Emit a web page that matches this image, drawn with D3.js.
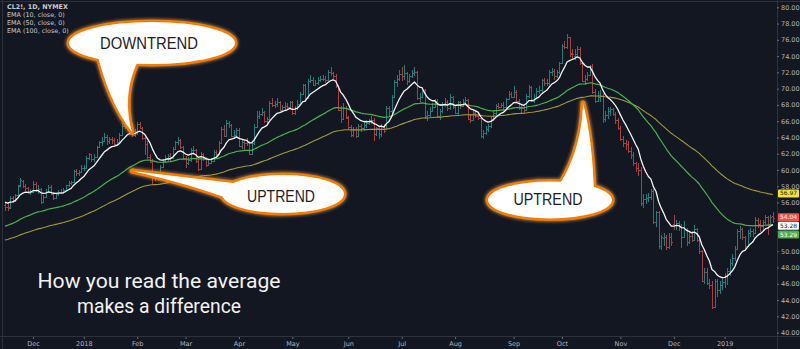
<!DOCTYPE html>
<html>
<head>
<meta charset="utf-8">
<script src="https://cdn.jsdelivr.net/npm/d3@7/dist/d3.min.js"></script>
<style>
  html, body { margin: 0; padding: 0; background: #131722; }
  svg { display: block; }
</style>
</head>
<body>
<svg id="chart" width="800" height="349"></svg>
<script>
// ---- CL2!, daily bars, mid-Nov 2017 .. end of Jan 2019 ----
const opens = [
  // Nov 2017
  55.7,55.4,55.4,56.6,56.2,56.9,58.1,58.7,58.0,57.8,57.2,
  // Dec 2017
  57.3,58.3,57.5,57.6,56.0,56.7,57.3,57.9,57.2,56.6,57.0,57.3,57.2,57.5,58.1,58.4,58.5,59.9,59.6,59.8,
  // Jan 2018
  60.2,60.3,61.5,61.9,61.3,61.6,62.8,63.4,63.6,64.1,63.5,63.8,63.7,63.2,63.4,64.3,65.4,65.3,65.9,65.3,64.3,
  // Feb
  64.5,65.6,65.2,63.9,63.2,61.6,61.0,59.1,59.2,59.1,60.4,61.1,61.5,61.7,61.5,62.6,63.4,63.7,62.8,
  // Mar
  61.5,60.9,61.2,62.5,62.5,61.1,60.1,62.0,61.3,60.6,60.9,61.1,62.2,62.0,63.3,65.0,64.2,65.8,65.5,64.2,64.3,
  // Apr
  64.9,63.0,63.4,63.3,63.4,62.0,63.3,65.3,66.6,66.9,67.1,66.0,66.3,68.2,68.0,68.1,68.3,67.4,67.8,67.9,67.8,
  // May
  68.3,67.0,67.6,68.1,69.4,70.4,68.8,70.9,71.1,70.5,70.7,71.0,71.2,71.2,71.0,72.0,71.9,71.6,70.3,67.4,66.3,67.6,
  // Jun
  66.4,65.3,64.3,65.0,64.2,65.4,65.1,65.5,65.8,66.0,66.2,64.4,65.1,64.4,65.4,65.0,67.6,67.2,69.0,70.8,71.2,
  // Jul
  71.8,71.6,71.9,70.9,71.6,71.9,72.1,68.8,69.0,69.8,66.6,66.7,67.3,67.8,68.5,66.6,67.2,68.0,68.4,67.6,69.0,
  // Aug
  67.8,67.0,68.3,67.9,68.4,68.6,66.3,66.2,67.0,66.6,66.4,64.2,64.6,65.0,65.4,66.3,67.0,67.9,67.8,68.0,67.7,68.7,69.4,
  // Sep
  69.0,69.6,68.5,67.6,67.6,67.4,69.1,70.2,68.5,68.9,69.7,69.8,71.0,70.7,70.7,72.0,72.2,71.5,72.0,
  // Oct
  73.2,75.2,75.1,76.3,74.4,74.0,74.2,74.9,73.1,70.9,71.2,71.7,72.8,69.6,68.5,69.0,69.1,66.3,66.7,67.2,67.5,66.9,66.1,
  // Nov
  65.2,63.8,63.3,63.2,62.3,61.8,60.8,60.3,60.0,55.9,56.4,56.6,56.7,57.4,53.6,54.8,50.6,51.6,51.8,50.5,51.7,
  // Dec
  53.4,53.2,53.5,53.1,51.7,52.8,51.2,51.9,51.4,52.8,51.4,50.0,46.4,47.4,46.1,45.9,43.1,46.4,45.2,45.9,
  // Jan 2019
  46.2,47.0,47.6,48.6,49.2,50.3,52.5,52.7,51.8,50.7,52.3,52.5,52.3,53.9,53.4,53.1,53.6,54.2,53.4,54.3
];
const highs = [
  56.0,55.9,56.8,56.8,57.1,58.2,59.0,58.8,58.3,57.9,57.7,
  58.7,58.5,58.1,57.8,56.9,57.6,58.2,58.1,57.3,57.2,57.5,57.7,57.8,58.2,58.6,58.7,60.0,60.1,60.0,60.6,
  60.6,61.7,62.1,62.0,61.9,62.9,63.6,64.0,64.5,64.3,64.0,64.1,63.9,63.8,64.6,65.8,66.2,66.1,66.0,65.4,65.0,
  65.9,65.9,65.3,64.0,63.5,61.9,61.4,59.7,59.6,60.6,61.4,61.8,62.0,62.1,62.8,63.6,64.0,63.8,62.9,
  61.7,61.6,62.7,62.9,62.6,61.3,62.2,62.1,61.6,61.2,61.5,62.4,62.5,63.5,65.3,65.5,66.2,66.0,65.6,64.9,65.2,
  65.1,63.8,63.8,63.9,63.6,63.5,65.6,67.2,67.2,67.6,67.3,66.5,68.5,68.8,68.5,68.8,68.5,68.0,68.3,68.2,68.5,
  68.5,67.9,68.6,69.6,70.6,70.6,71.2,71.7,71.4,71.1,71.4,71.6,71.7,71.5,72.3,72.6,72.1,71.8,70.5,67.9,68.2,67.9,
  66.6,65.5,65.3,65.3,65.6,65.7,65.9,66.1,66.3,66.6,66.4,65.3,65.4,65.6,65.6,67.9,67.9,69.2,71.1,71.7,72.3,
  72.6,72.9,72.0,71.8,72.3,72.6,72.2,69.5,70.1,69.9,67.3,67.7,68.2,68.7,68.7,67.5,68.3,68.8,68.6,69.3,69.1,
  68.0,68.5,68.5,68.7,69.0,68.7,66.9,67.3,67.2,67.1,66.5,64.9,65.4,65.6,66.5,67.2,68.1,68.2,68.2,68.3,68.9,69.7,69.6,
  70.3,69.8,68.7,68.0,68.0,69.4,70.5,70.3,69.3,70.1,70.3,71.2,71.3,71.2,72.3,72.5,72.4,72.3,73.3,
  75.5,75.8,76.7,76.3,74.9,74.9,75.2,75.1,73.3,71.7,72.0,72.9,73.0,70.0,69.7,69.8,69.3,67.2,67.7,67.8,67.6,67.1,66.4,
  65.4,64.2,63.7,63.6,62.8,62.2,61.0,60.8,60.4,57.0,57.0,57.2,57.7,57.6,55.0,55.0,52.0,52.3,52.0,52.2,52.2,
  54.4,53.9,53.7,53.3,53.7,52.9,52.4,52.5,53.2,52.9,51.6,50.1,48.0,47.9,46.6,46.4,46.6,46.6,46.4,46.7,
  47.3,47.9,49.1,49.7,50.7,52.8,53.1,52.9,51.9,52.6,52.9,52.8,54.2,54.1,53.8,53.8,54.5,54.3,54.4,54.8
];
const lows = [
  55.0,54.9,55.2,55.9,56.0,56.8,57.9,57.8,57.4,57.0,56.9,
  57.2,57.3,57.1,55.8,55.9,56.6,57.2,56.9,56.3,56.5,56.8,57.0,57.0,57.4,57.9,58.2,58.4,59.3,59.3,59.6,
  59.9,60.1,61.2,61.0,61.0,61.5,62.7,63.0,63.4,63.1,63.2,63.2,62.9,62.9,63.3,64.2,65.0,65.0,64.9,64.0,64.0,
  64.3,65.0,63.7,61.8,61.3,60.8,58.1,58.6,58.6,59.0,60.2,60.8,61.1,61.0,61.3,62.4,63.1,62.6,61.2,
  60.3,60.6,61.0,62.1,60.9,59.9,60.0,61.1,60.4,60.5,60.7,61.0,61.6,61.9,63.2,64.0,64.1,65.1,64.0,63.9,64.1,
  62.8,62.6,62.4,63.0,61.8,61.9,63.1,65.1,66.3,66.6,65.8,65.7,66.2,67.7,67.6,67.8,67.2,67.1,67.4,67.4,67.6,
  66.7,66.8,67.4,68.0,69.3,68.3,68.7,70.7,70.3,70.3,70.5,70.8,70.9,70.7,70.9,71.6,71.2,70.1,67.2,65.8,66.2,66.3,
  65.0,64.0,64.0,63.9,64.0,64.7,64.8,65.2,65.5,65.7,63.6,64.2,63.8,64.1,64.5,64.9,66.6,66.9,68.8,70.2,70.9,
  70.9,71.0,70.5,70.7,71.3,71.6,68.6,68.3,68.8,66.3,66.0,66.5,67.1,67.6,66.4,66.2,67.0,67.8,67.3,67.4,67.5,
  66.9,66.6,67.5,67.7,68.0,66.1,65.8,66.0,66.4,66.1,63.9,63.8,64.3,64.7,65.2,66.0,66.8,67.5,67.6,67.4,67.6,68.6,68.8,
  68.8,68.2,67.4,67.0,66.9,67.2,68.9,68.3,68.2,68.7,69.3,69.6,70.3,70.3,70.5,71.6,71.1,71.3,71.8,
  73.1,74.9,74.9,73.9,73.7,73.5,73.9,72.9,70.8,70.5,70.9,71.5,69.4,68.2,68.3,68.4,65.8,65.9,66.3,66.6,66.6,65.7,64.9,
  63.6,62.8,62.5,62.1,61.3,60.5,59.8,59.3,55.6,55.3,55.8,56.0,56.3,53.3,53.0,50.3,50.2,50.7,50.2,50.3,50.7,
  52.6,52.6,52.5,50.4,51.6,50.6,50.9,51.1,51.3,51.1,49.7,46.2,46.0,45.8,45.3,42.9,43.0,44.4,44.7,45.2,
  45.5,45.8,46.9,48.2,48.8,50.1,51.5,51.4,50.3,50.5,51.8,51.7,52.2,52.9,52.4,52.6,53.3,52.0,53.2,53.5
];
const closes = [
  55.4,55.3,56.6,56.2,56.9,58.0,58.8,58.0,57.8,57.2,57.3,
  58.3,57.5,57.6,56.0,56.7,57.3,57.9,57.1,56.6,57.0,57.3,57.2,57.5,58.1,58.4,58.5,59.9,59.6,59.8,60.3,
  60.3,61.5,61.9,61.3,61.6,62.8,63.4,63.6,64.1,63.5,63.8,63.7,63.2,63.4,64.3,65.4,65.3,65.9,65.3,64.3,64.5,
  65.6,65.2,63.9,63.2,61.6,61.0,59.1,59.2,59.1,60.4,61.1,61.5,61.7,61.5,62.6,63.4,63.7,62.8,61.5,
  60.9,61.2,62.5,62.5,61.1,60.1,62.0,61.3,60.6,60.9,61.1,62.2,62.0,63.3,65.0,64.2,65.8,65.5,64.2,64.3,64.9,
  63.0,63.4,63.3,63.4,62.0,63.3,65.3,66.6,66.9,67.1,66.0,66.3,68.2,68.0,68.1,68.3,67.4,67.8,67.9,67.8,68.3,
  67.0,67.6,68.1,69.4,70.4,68.8,70.9,71.1,70.5,70.7,71.0,71.2,71.2,71.0,72.0,71.9,71.6,70.3,67.4,66.3,67.6,66.5,
  65.3,64.3,65.0,64.2,65.4,65.1,65.5,65.8,66.0,66.2,64.4,65.1,64.4,65.4,64.8,67.6,67.2,69.0,70.8,71.2,71.8,
  71.6,71.9,70.9,71.6,71.9,72.1,68.8,69.0,69.8,66.6,66.7,67.3,67.8,68.5,66.6,67.2,68.0,68.4,67.6,69.0,67.8,
  67.0,68.3,67.9,68.4,68.6,66.3,66.2,67.0,66.6,66.4,64.2,64.6,65.0,65.4,66.3,67.0,67.9,67.8,68.0,67.7,68.7,69.4,69.0,
  69.6,68.5,67.6,67.6,67.4,69.1,70.2,68.5,68.9,69.7,69.8,71.0,70.7,70.7,72.0,72.2,71.5,72.0,73.1,
  75.2,75.1,76.3,74.2,74.2,74.2,74.9,73.1,70.9,71.2,71.7,72.8,69.6,68.5,69.0,69.1,66.3,66.7,67.2,67.5,66.9,66.1,65.2,
  63.8,63.3,63.2,62.3,61.8,60.8,60.3,60.0,55.9,56.4,56.6,56.7,57.4,53.6,54.8,50.6,51.8,51.8,50.5,51.7,51.1,
  53.2,53.5,53.1,51.7,52.8,51.2,51.9,51.4,52.8,51.4,50.0,46.4,47.4,46.1,45.9,43.1,46.4,45.2,45.9,46.2,
  47.0,47.6,48.6,49.2,50.3,52.5,52.7,51.8,50.7,52.3,52.5,52.3,53.9,53.4,53.1,53.6,54.2,53.4,54.2,54.04
];

// trading bars per calendar month (first entry: tail of Nov 2017)
const barsPerMonth = [11, 20, 21, 19, 21, 21, 22, 21, 21, 23, 19, 23, 21, 20, 20];
const monthLabels = ["Dec", "2018", "Feb", "Mar", "Apr", "May", "Jun", "Jul", "Aug", "Sep", "Oct", "Nov", "Dec", "2019"];
const priceTicks = [40, 42, 44, 46, 48, 50, 52, 54, 56, 58, 60, 62, 64, 66, 68, 70, 72, 74, 76, 78, 80];

// moving averages: lengths and their values on the bar before the first one shown
const emaLengths = [10, 50, 100];
const emaSeeds = [56.2, 53.0, 51.3];
const legendLines = ["CL2!, 1D, NYMEX", "EMA (10, close, 0)", "EMA (50, close, 0)", "EMA (100, close, 0)"];
const captionLines = ["How you read the average", "makes a difference"];

// ---------------------------------------------------------------
const emaColors = ["#f4f4f4", "#4caf50", "#a39a3e"];
const emaWidths = [1.3, 1.2, 1.1];
const labelBg = ["#ffffff", "#4caf50", "#f2e234"];
const labelFg = ["#131722", "#ffffff", "#131722"];

const svg = d3.select("#chart");
const W = 800, H = 349;
const plot = { left: 3, right: 777, top: 2, bottom: 337 };

const x = d3.scaleLinear().domain([0, closes.length - 1]).range([5, 773]);
const y = d3.scaleLinear().domain([40, 80]).range([332.6, 7.3]);

function ema(values, length, seed) {
  const k = 2 / (length + 1);
  let prev = seed;
  return values.map(v => (prev = k * v + (1 - k) * prev));
}
const emas = emaLengths.map((len, i) => ema(closes, len, emaSeeds[i]));

// background + frame
svg.append("rect").attr("width", W).attr("height", H).attr("fill", "#131722");
const defs = svg.append("defs");
defs.append("clipPath").attr("id", "plotClip").append("rect")
  .attr("x", plot.left).attr("y", plot.top)
  .attr("width", plot.right - plot.left).attr("height", plot.bottom - plot.top);
const glow = defs.append("filter").attr("id", "glow")
  .attr("x", "-20%").attr("y", "-20%").attr("width", "140%").attr("height", "140%");
glow.append("feGaussianBlur").attr("stdDeviation", 1.6);

const frame = svg.append("g").attr("stroke", "#2e323d").attr("stroke-width", 1).attr("shape-rendering", "crispEdges");
frame.append("line").attr("x1", 0).attr("x2", W).attr("y1", 1.5).attr("y2", 1.5);
frame.append("line").attr("x1", 2.5).attr("x2", 2.5).attr("y1", 0).attr("y2", H);
frame.append("line").attr("x1", plot.right + 0.5).attr("x2", plot.right + 0.5).attr("y1", 0).attr("y2", H);
frame.append("line").attr("x1", 0).attr("x2", W).attr("y1", plot.bottom - 0.5).attr("y2", plot.bottom - 0.5);

// OHLC bars
const chart = svg.append("g").attr("clip-path", "url(#plotClip)");
const barG = chart.append("g").attr("shape-rendering", "crispEdges").attr("stroke-width", 1).attr("fill", "none");
const barIdx = d3.range(closes.length);
barG.selectAll("path").data(barIdx).join("path")
  .attr("stroke", i => closes[i] >= opens[i] ? "#1f7e78" : "#a83f43")
  .attr("d", i => {
    const xi = Math.round(x(i)) + 0.5;
    const yh = y(highs[i]), yl = y(lows[i]);
    const yo = Math.round(y(opens[i])) + 0.5, yc = Math.round(y(closes[i])) + 0.5;
    return `M${xi},${yh}V${yl}M${xi - 1.5},${yo}H${xi}M${xi},${yc}H${xi + 1.5}`;
  });

// EMA lines (slowest first so the 10-day line sits on top)
[2, 1, 0].forEach(k => {
  chart.append("path")
    .datum(emas[k])
    .attr("fill", "none")
    .attr("stroke", emaColors[k])
    .attr("stroke-width", emaWidths[k])
    .attr("stroke-linejoin", "round")
    .attr("d", d3.line().x((d, i) => x(i)).y(d => y(d)));
});

// last-value labels on the price scale, stacked so they never overlap
const last = closes.length - 1;
const tags = [
  { v: emas[2][last], bg: labelBg[2], fg: labelFg[2] },
  { v: closes[last], bg: closes[last] >= opens[last] ? "#26a69a" : "#ef5350", fg: "#ffffff" },
  { v: emas[0][last], bg: labelBg[0], fg: labelFg[0] },
  { v: emas[1][last], bg: labelBg[1], fg: labelFg[1] }
];
const tagGap = 8.6;
let prevY = -Infinity;
tags.forEach(t => {
  t.cy = Math.max(y(t.v) - 1.2, prevY + tagGap);
  prevY = t.cy;
});

// price axis: scale labels hidden behind a value tag are left out
const freeTicks = priceTicks.filter(p => tags.every(t => Math.abs(y(p) - t.cy) > 6.6));
const yAxisG = svg.append("g").attr("transform", `translate(${plot.right},0)`)
  .call(d3.axisRight(y).tickValues(freeTicks).tickFormat(d3.format(".2f")).tickSize(2).tickPadding(2));
yAxisG.select(".domain").remove();
yAxisG.selectAll("line").attr("stroke", "#6a6e78");
yAxisG.selectAll("text").attr("fill", "#b2b5be").style("font", "6.5px 'DejaVu Sans', sans-serif");

// time axis
let acc = 0;
const monthStarts = barsPerMonth.slice(0, -1).map(n => (acc += n));
const xAxisG = svg.append("g").attr("transform", `translate(0,${plot.bottom})`)
  .call(d3.axisBottom(x).tickValues(monthStarts).tickFormat((d, i) => monthLabels[i]).tickSize(2).tickPadding(2));
xAxisG.select(".domain").remove();
xAxisG.selectAll("line").attr("stroke", "#6a6e78");
xAxisG.selectAll("text").attr("fill", "#b2b5be").style("font", "6.5px 'DejaVu Sans', sans-serif");

const tagG = svg.append("g").selectAll("g").data(tags).join("g")
  .attr("transform", t => `translate(${plot.right + 1},${t.cy})`);
tagG.append("rect").attr("x", 0).attr("y", -4).attr("width", 21).attr("height", 8).attr("rx", 1)
  .attr("fill", t => t.bg);
tagG.append("text").attr("x", 10.5).attr("y", 2.1).attr("text-anchor", "middle")
  .attr("fill", t => t.fg).style("font", "5.9px 'DejaVu Sans', sans-serif")
  .text(t => t.v.toFixed(2));

// legend
svg.append("g").selectAll("text").data(legendLines).join("text")
  .attr("x", 7).attr("y", (d, i) => i === 0 ? 8.6 : 9 + i * 8)
  .attr("fill", "#c8cad0")
  .style("font", (d, i) => `${i === 0 ? "bold " : ""}6.4px 'DejaVu Sans', sans-serif`)
  .text(d => d);

// speech bubbles
const bubbles = [
  { text: "DOWNTREND", cx: 152, cy: 43, rx: 83, ry: 21, tx: 149, ty: 48.5, tw: 98,
    tail: "M97,52 C104,82 115,110 132,132 C126,110 125,84 141,55 Z" },
  { text: "UPTREND", cx: 283, cy: 194, rx: 61, ry: 19, tx: 281, ty: 201.5, tw: 68,
    tail: "M250,185 L132,171 Q190,184 232,200 Z" },
  { text: "UPTREND", cx: 550, cy: 200, rx: 62, ry: 18.5, tx: 548, ty: 205, tw: 69,
    tail: "M554,192 C570,172 582,140 583,103 C590,130 593,160 594,192 Z" }
];
const bub = svg.append("g");
bubbles.forEach(b => {
  const g = bub.append("g");
  const outline = sel => {
    sel.append("ellipse").attr("cx", b.cx).attr("cy", b.cy).attr("rx", b.rx).attr("ry", b.ry);
    sel.append("path").attr("d", b.tail);
  };
  const halo = g.append("g").attr("fill", "none").attr("stroke", "#ffb061").attr("stroke-width", 7)
    .attr("stroke-linejoin", "round").attr("opacity", 0.55).attr("filter", "url(#glow)");
  outline(halo);
  const edge = g.append("g").attr("fill", "none").attr("stroke", "#f57c00").attr("stroke-width", 5)
    .attr("stroke-linejoin", "round");
  outline(edge);
  const fill = g.append("g").attr("fill", "#ffffff").attr("stroke", "none");
  outline(fill);
  g.append("text").attr("x", b.tx).attr("y", b.ty).attr("text-anchor", "middle")
    .attr("textLength", b.tw).attr("lengthAdjust", "spacingAndGlyphs")
    .attr("fill", "#1d1d26").style("font", "16px 'Liberation Sans', Arial, sans-serif")
    .text(b.text);
});

// caption
const captionWidths = [243, 164];
svg.append("g").selectAll("text").data(captionLines).join("text")
  .attr("x", 159).attr("y", (d, i) => 288 + i * 25)
  .attr("text-anchor", "middle").attr("fill", "#f2f2f2")
  .attr("textLength", (d, i) => captionWidths[i]).attr("lengthAdjust", "spacingAndGlyphs")
  .style("font", "20px Roboto, sans-serif")
  .text(d => d);
</script>
</body>
</html>
